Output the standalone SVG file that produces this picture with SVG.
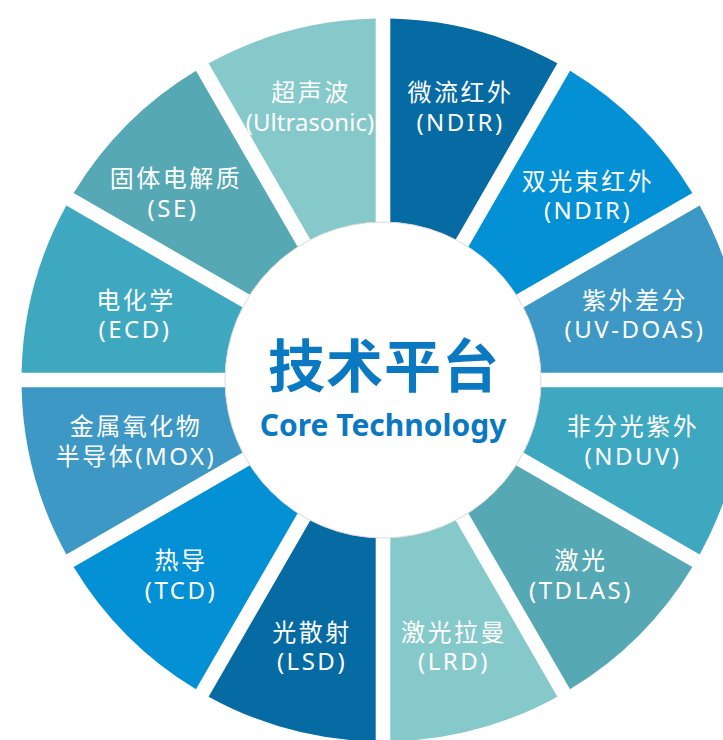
<svg xmlns="http://www.w3.org/2000/svg" width="723" height="740" viewBox="0 0 723 740">
<style>
.seg{stroke:none}
.c1{fill:#066AA3}.c2{fill:#0490D5}.c3{fill:#3D98C5}.c4{fill:#3FA8C1}.c5{fill:#57A8B5}.c6{fill:#85C9CA}
.lbl{font-family:"Noto Sans","Noto Sans CJK SC",sans-serif;font-size:24px;fill:#ffffff;text-anchor:middle}
.cn{letter-spacing:2.5px}
.en{letter-spacing:2.5px}
.hub{font-family:"Noto Sans","Noto Sans CJK SC",sans-serif;font-weight:bold;fill:#0B79C2;text-anchor:middle}
</style>
<rect width="723" height="740" fill="#ffffff"/>
<g id="seg-wldir">
<path class="seg c1" d="M390.3,18.57 A361.5,361.5 0 0 1 557.39,63.34 L455.59,239.66 A158,158 0 0 0 390.3,222.17 Z"/>
<text class="lbl cn" x="460.5" y="101">微流红外</text>
<text class="lbl en" x="460.5" y="131">(NDIR)</text>
</g>
<g id="seg-sgs">
<path class="seg c2" d="M570.04,70.64 A361.5,361.5 0 0 1 692.36,192.96 L516.04,294.76 A158,158 0 0 0 468.24,246.96 Z"/>
<text class="lbl cn" x="588" y="190">双光束红外</text>
<text class="lbl en" x="588" y="219">(NDIR)</text>
</g>
<g id="seg-uvdoas">
<path class="seg c3" d="M699.66,205.61 A361.5,361.5 0 0 1 744.43,372.7 L540.83,372.7 A158,158 0 0 0 523.34,307.41 Z"/>
<text class="lbl cn" x="635" y="309">紫外差分</text>
<text class="lbl en" x="635" y="338">(UV-DOAS)</text>
</g>
<g id="seg-nduv">
<path class="seg c4" d="M744.43,387.3 A361.5,361.5 0 0 1 699.66,554.39 L523.34,452.59 A158,158 0 0 0 540.83,387.3 Z"/>
<text class="lbl cn" x="633" y="435">非分光紫外</text>
<text class="lbl en" x="633" y="465">(NDUV)</text>
</g>
<g id="seg-tdlas">
<path class="seg c5" d="M692.36,567.04 A361.5,361.5 0 0 1 570.04,689.36 L468.24,513.04 A158,158 0 0 0 516.04,465.24 Z"/>
<text class="lbl cn" x="581" y="569">激光</text>
<text class="lbl en" x="581" y="599">(TDLAS)</text>
</g>
<g id="seg-lrd">
<path class="seg c6" d="M557.39,696.66 A361.5,361.5 0 0 1 390.3,741.43 L390.3,537.83 A158,158 0 0 0 455.59,520.34 Z"/>
<text class="lbl cn" x="454" y="641">激光拉曼</text>
<text class="lbl en" x="454" y="670">(LRD)</text>
</g>
<g id="seg-lsd">
<path class="seg c1" d="M375.7,741.43 A361.5,361.5 0 0 1 208.61,696.66 L310.41,520.34 A158,158 0 0 0 375.7,537.83 Z"/>
<text class="lbl cn" x="312" y="641">光散射</text>
<text class="lbl en" x="312" y="670">(LSD)</text>
</g>
<g id="seg-tcd">
<path class="seg c2" d="M195.96,689.36 A361.5,361.5 0 0 1 73.64,567.04 L249.96,465.24 A158,158 0 0 0 297.76,513.04 Z"/>
<text class="lbl cn" x="181" y="569">热导</text>
<text class="lbl en" x="181" y="599">(TCD)</text>
</g>
<g id="seg-mox">
<path class="seg c3" d="M66.34,554.39 A361.5,361.5 0 0 1 21.57,387.3 L225.17,387.3 A158,158 0 0 0 242.66,452.59 Z"/>
<text class="lbl cn" x="136" y="435">金属氧化物</text>
<text class="lbl cn" x="136" y="465">半导体(MOX)</text>
</g>
<g id="seg-ecd">
<path class="seg c4" d="M21.57,372.7 A361.5,361.5 0 0 1 66.34,205.61 L242.66,307.41 A158,158 0 0 0 225.17,372.7 Z"/>
<text class="lbl cn" x="136" y="309">电化学</text>
<text class="lbl en" x="135" y="338">(ECD)</text>
</g>
<g id="seg-se">
<path class="seg c5" d="M73.64,192.96 A361.5,361.5 0 0 1 195.96,70.64 L297.76,246.96 A158,158 0 0 0 249.96,294.76 Z"/>
<text class="lbl cn" x="176" y="187">固体电解质</text>
<text class="lbl en" x="173" y="217">(SE)</text>
</g>
<g id="seg-ultrasonic">
<path class="seg c6" d="M208.61,63.34 A361.5,361.5 0 0 1 375.7,18.57 L375.7,222.17 A158,158 0 0 0 310.41,239.66 Z"/>
<text class="lbl cn" x="311" y="101">超声波</text>
<text class="lbl" x="310" y="131">(Ultrasonic)</text>
</g>
<g id="connectors"></g>
<g id="hub">
<circle cx="383" cy="380" r="158" fill="#ffffff" stroke="#dadada" stroke-width="1"/>
<text class="hub" x="384" y="387" font-size="57" letter-spacing="1">技术平台</text>
<text class="hub" x="383" y="436" font-size="30">Core Technology</text>
</g>
</svg>
